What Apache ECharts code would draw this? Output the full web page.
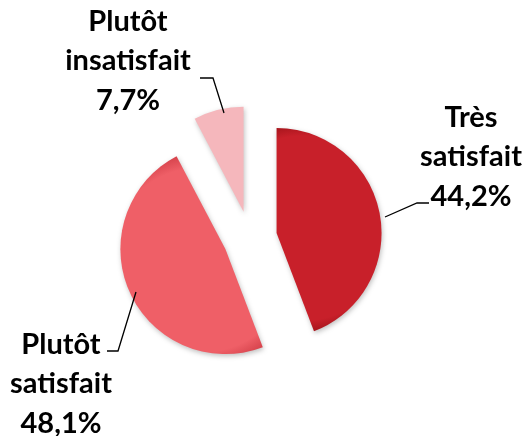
<!DOCTYPE html>
<html>
<head>
<meta charset="utf-8">
<script src="https://cdn.jsdelivr.net/npm/echarts@6/dist/echarts.min.js"></script>
<style>
html,body{margin:0;padding:0;background:#fff;}
#chart{width:526px;height:436px;}
</style>
</head>
<body>
<div id="chart"></div>
<script>
const categories = ['Très satisfait', 'Plutôt satisfait', 'Plutôt insatisfait'];
const values = [44.2, 48.1, 7.7];
const colors = ['#C8202A', '#EF5F67', '#F5B7BC'];
const rimColors = ['#A3141B', '#D9464F', '#E39CA2'];

const CX = 250, CY = 238, R = 105, OFF = 27;

const labelPos = [
  {x: 471, y: 157, line: [[385,217],[417,203],[429,203]]},
  {x: 61, y: 384, line: [[136,292],[118,351],[107,351]]},
  {x: 128, y: 61, line: [[224,113],[213,78],[200,78]]}
];

const total = values.reduce((a, b) => a + b, 0);
let acc = 0;
const apexes = values.map(v => {
  const mid = (acc + v / 2) / total * 2 * Math.PI;
  acc += v;
  return [CX + OFF * Math.sin(mid), CY - OFF * Math.cos(mid)];
});

const fmt = v => v.toFixed(1).replace('.', ',') + '%';

const graphics = [];
categories.forEach((c, i) => {
  const p = labelPos[i];
  const parts = c.split(' ');
  const lines = [parts[0], parts.slice(1).join(' '), fmt(values[i])];
  const lh = 39.5;
  lines.forEach((t, k) => {
    graphics.push({
      type: 'text',
      x: p.x,
      y: p.y + (k - 1) * lh,
      style: {
        text: t,
        font: 'bold 29px Lato',
        fill: '#000',
        textAlign: 'center',
        textVerticalAlign: 'middle'
      },
      z: 10
    });
  });
  graphics.push({
    type: 'polyline',
    shape: {points: p.line},
    style: {stroke: '#000', lineWidth: 1.3, fill: null},
    z: 10
  });
});

const chart = echarts.init(document.getElementById('chart'));
chart.setOption({
  animation: false,
  graphic: graphics,
  series: [{
    type: 'pie',
    center: [CX, CY],
    radius: [0, R],
    startAngle: 90,
    clockwise: true,
    selectedMode: 'multiple',
    selectedOffset: OFF,
    data: categories.map((c, i) => ({
      name: c,
      value: values[i],
      selected: true,
      itemStyle: {
        color: {
          type: 'radial', x: apexes[i][0], y: apexes[i][1], r: R, global: true,
          colorStops: [
            {offset: 0, color: colors[i]},
            {offset: 0.88, color: colors[i]},
            {offset: 1, color: rimColors[i]}
          ]
        }
      }
    })),
    itemStyle: {
      shadowBlur: 5,
      shadowColor: 'rgba(0,0,0,0.25)',
      shadowOffsetX: 1,
      shadowOffsetY: 2
    },
    label: {show: false},
    labelLine: {show: false},
    emphasis: {disabled: true},
    select: {itemStyle: {}}
  }]
});
</script>
</body>
</html>
